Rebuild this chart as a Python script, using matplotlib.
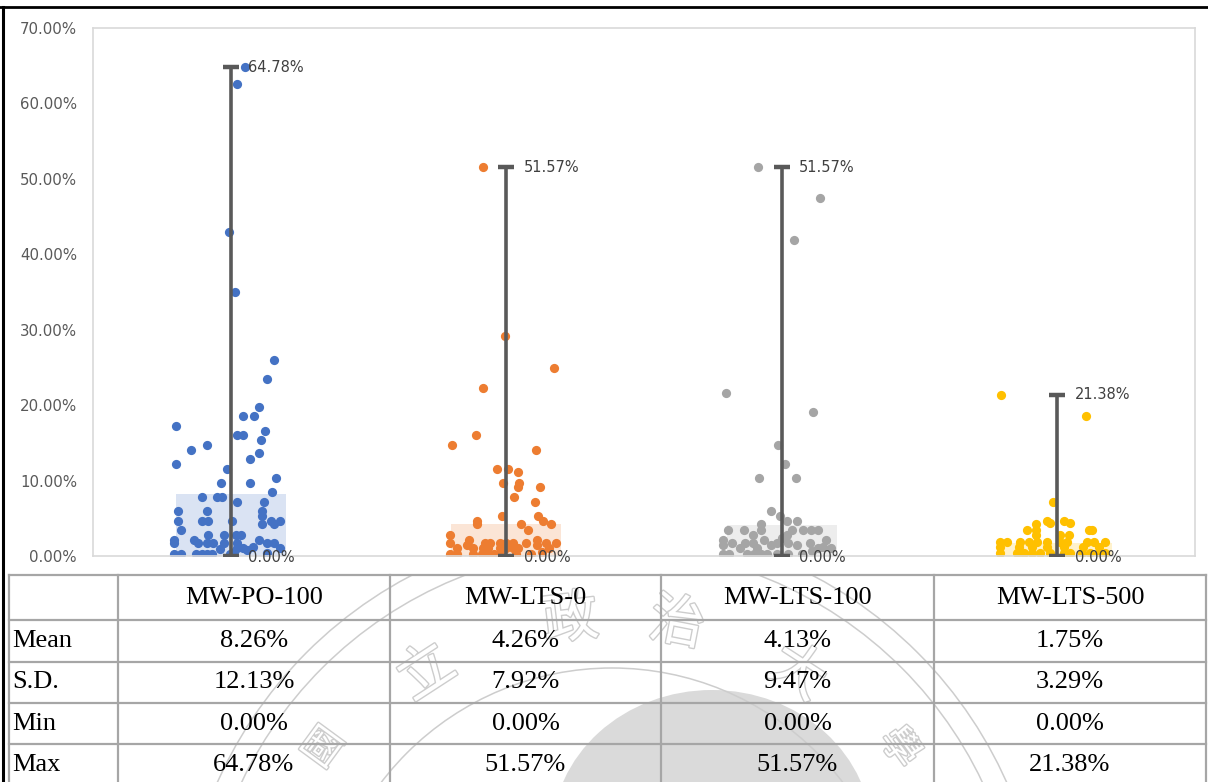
import math
import matplotlib
matplotlib.use("Agg")
import matplotlib.pyplot as plt
import matplotlib.patheffects as pe
from matplotlib.patches import Circle, Ellipse, Rectangle
from matplotlib.ticker import FuncFormatter

# summary values (percent)
groups = ["MW-PO-100", "MW-LTS-0", "MW-LTS-100", "MW-LTS-500"]
means = [8.26, 4.26, 4.13, 1.75]
sds = [12.13, 7.92, 9.47, 3.29]
mins = [0.00, 0.00, 0.00, 0.00]
maxs = [64.78, 51.57, 51.57, 21.38]
stat_rows = ["Mean", "S.D.", "Min", "Max"]

# individual observations (percent) and their horizontal jitter
po100_y = [64.78, 62.6, 43.0, 35.0, 26.0, 23.5, 19.8, 18.6, 18.6, 17.3, 16.1, 16.1, 16.6, 15.4,
           14.7, 14.0, 13.6, 12.9, 12.2, 11.5, 9.7, 9.7, 10.4, 8.5, 7.8, 7.8, 7.8, 7.2, 7.2,
           6.0, 6.0, 6.0, 5.3, 4.6, 4.6, 4.6, 4.6, 4.2, 4.6, 4.6, 4.2, 3.5, 2.8, 2.8, 2.8, 2.8,
           2.1, 1.7, 2.1, 1.7, 1.7, 1.7, 1.7, 1.7, 1.0, 2.1, 1.7, 1.7, 1.0, 1.0,
           0.3, 0.3, 0.3, 0.3, 0.3, 0.3, 0.3, 0.5, 0.8, 1.2, 0.4, 0.9]
po100_jit = [0.051, 0.024, -0.006, 0.015, 0.157, 0.132, 0.102, 0.045, 0.083, -0.200, 0.021, 0.045, 0.126, 0.108,
             -0.088, -0.145, 0.102, 0.069, -0.200, -0.013, -0.037, 0.069, 0.163, 0.151, -0.106, -0.051, -0.032, 0.021, 0.121,
             -0.193, -0.088, 0.114, 0.114, -0.193, -0.106, -0.081, 0.005, 0.114, 0.145, 0.178, 0.157, -0.181, -0.081, -0.025, 0.018, 0.039,
             -0.207, -0.207, -0.132, -0.119, -0.088, -0.063, -0.025, 0.024, 0.045, 0.102, 0.133, 0.157, 0.178, 0.023,
             -0.207, -0.181, -0.125, -0.106, -0.088, -0.069, -0.004, 0.010, 0.060, 0.080, 0.130, -0.040]

lts0_y = [51.57, 29.2, 24.9, 22.3, 16.1, 14.7, 14.0, 11.5, 11.5, 11.1, 9.7, 9.7, 9.2, 9.2, 7.8, 7.2,
          5.3, 5.3, 4.6, 4.2, 4.6, 4.2, 4.2, 3.5, 2.8, 1.7, 1.0, 0.3, 0.3, 2.1, 1.5, 1.0, 0.3,
          1.7, 1.7, 1.0, 1.0, 0.3, 0.3, 0.3, 1.7, 1.7, 1.0, 1.0, 0.3, 1.7, 1.0, 1.0, 1.7, 2.1, 1.5,
          1.7, 1.0, 1.7, 0.3, 0.3, 0.5]
lts0_jit = [-0.085, -0.004, 0.172, -0.085, -0.109, -0.197, 0.109, -0.034, 0.008, 0.041, -0.010, 0.047, 0.041, 0.123, 0.029, 0.104,
            -0.016, 0.115, 0.135, 0.162, -0.105, -0.105, 0.053, 0.079, -0.203, -0.203, -0.179, -0.203, -0.179, -0.137, -0.143, -0.119, -0.119,
            -0.076, -0.058, -0.083, -0.065, -0.088, -0.070, -0.046, -0.022, 0.000, -0.022, 0.000, -0.022, 0.024, 0.026, 0.041, 0.073, 0.111, 0.111,
            0.145, 0.154, 0.179, 0.036, 0.090, 0.130]

lts100_y = [51.57, 47.4, 41.9, 21.6, 19.1, 14.7, 12.2, 10.4, 10.4, 6.0, 5.3, 4.6, 4.6, 4.2,
            3.5, 3.5, 3.5, 3.5, 3.5, 3.5, 3.5, 2.8, 2.8, 2.1, 1.5, 1.7, 1.7, 1.7, 2.1, 1.5, 1.7,
            1.7, 1.5, 1.7, 2.1, 1.0, 1.0, 0.3, 0.3, 0.3, 0.3, 0.3, 0.3, 0.3, 0.3, 0.3,
            1.0, 1.0, 2.4, 0.7, 1.2]
lts100_jit = [-0.088, 0.139, 0.044, -0.201, 0.114, -0.013, 0.013, -0.082, 0.051, -0.039, -0.008, 0.019, 0.057, -0.076,
              -0.195, -0.138, -0.076, 0.037, 0.076, 0.105, 0.133, -0.106, 0.019, -0.212, -0.212, -0.179, -0.134, -0.106, -0.064, -0.040, -0.016,
              0.021, 0.057, 0.103, 0.160, 0.130, 0.178, -0.212, -0.191, -0.125, -0.101, -0.076, -0.052, -0.016, 0.021, 0.075,
              -0.150, -0.090, 0.000, 0.110, 0.150]

lts500_y = [21.38, 18.6, 7.1, 4.7, 4.4, 4.7, 4.4, 4.2, 3.5, 3.5, 3.5, 3.5, 2.8, 2.8, 2.8,
            1.9, 1.9, 1.9, 1.9, 1.9, 1.9, 1.9, 1.9, 1.9, 1.9, 1.9,
            1.2, 1.2, 1.2, 1.2, 1.2, 1.2, 1.2,
            0.4, 0.4, 0.4, 0.4, 0.4, 0.4, 0.4, 0.4, 0.4, 0.4, 0.4, 0.4]
lts500_jit = [-0.203, 0.105, -0.016, -0.037, -0.025, 0.023, 0.047, -0.076, -0.110, -0.076, 0.114, 0.126, -0.076, 0.011, 0.041,
              -0.209, -0.183, -0.134, -0.104, -0.074, -0.037, 0.011, 0.035, 0.108, 0.132, 0.174,
              -0.209, -0.140, -0.092, -0.037, 0.023, 0.095, 0.150,
              -0.209, -0.146, -0.122, -0.092, -0.062, -0.025, 0.023, 0.047, 0.090, 0.120, 0.150, 0.174]

points_y = [po100_y, lts0_y, lts100_y, lts500_y]
points_jit = [po100_jit, lts0_jit, lts100_jit, lts500_jit]
dot_colors = ["#4472C4", "#ED7D31", "#A5A5A5", "#FFC000"]
bar_colors = ["#DAE3F3", "#FBE5D6", "#EDEDED", "#FFF2CC"]

fig = plt.figure(figsize=(12.08, 7.82), dpi=100)

# full-page overlay in pixel units for table, borders and watermark
bg = fig.add_axes([0, 0, 1, 1], zorder=0)
bg.set_xlim(0, 1208)
bg.set_ylim(782, 0)
bg.axis("off")

# chart
ax = fig.add_axes([93 / 1208, 1 - 556 / 782, (1195 - 93) / 1208, (556 - 28) / 782], zorder=1)
ax.set_facecolor("white")
pos = [1, 2, 3, 4]
ax.bar(pos, means, width=0.40, color=bar_colors, zorder=1)
for i in range(4):
    xs = [pos[i] + j for j in points_jit[i]]
    ax.scatter(xs, points_y[i], s=44, color=dot_colors[i], linewidths=0, zorder=2)
    ax.errorbar(pos[i], means[i], yerr=[[means[i] - mins[i]], [maxs[i] - means[i]]], fmt="none",
                ecolor="#595959", elinewidth=2.6, capsize=5.8, capthick=3.2, zorder=3)
    ax.annotate(f"{maxs[i]:.2f}%", (pos[i], maxs[i]), xytext=(12.5, 0), textcoords="offset points",
                va="center", ha="left", fontsize=10.5, color="#404040")
    ax.annotate(f"{mins[i]:.2f}%", (pos[i], mins[i]), xytext=(12.5, -1), textcoords="offset points",
                va="center", ha="left", fontsize=10.5, color="#404040", zorder=4)
ax.set_xlim(0.5, 4.5)
ax.set_ylim(0, 70)
ax.set_yticks(range(0, 71, 10))
ax.yaxis.set_major_formatter(FuncFormatter(lambda v, p: f"{v:.2f}%"))
ax.tick_params(axis="y", length=0, pad=11.5, labelsize=10.8, labelcolor="#595959")
ax.set_xticks([])
for s in ax.spines.values():
    s.set_color("#D9D9D9")
    s.set_linewidth(1.2)

# watermark (seal) behind the table
wm = "#cdcdcd"
cx, cy = 612, 958
clip = Rectangle((9, 576), 1197, 210, transform=bg.transData, fill=False)
blob = Ellipse((712, 835), 320, 290, fc="#dadada", ec="none", zorder=0.3)
bg.add_patch(blob)
blob.set_clip_path(clip)
for r in (290, 410, 432):
    c = Circle((cx, cy), r, fill=False, ec=wm, lw=1.1, zorder=0.4)
    bg.add_patch(c)
    c.set_clip_path(clip)
seal_chars = ["國", "立", "政", "治", "大", "學"]
seal_angles = [143.8, 123, 97, 79, 57, 36.2]
seal_radii = [356, 340, 340, 340, 340, 356]
seal_sizes = [28, 40, 40, 40, 40, 28]
for ch, a, rr, fs in zip(seal_chars, seal_angles, seal_radii, seal_sizes):
    t = math.radians(a)
    bg.text(cx + rr * math.cos(t), cy - rr * math.sin(t), ch, rotation=a - 90,
            ha="center", va="center", fontsize=fs, color="white", family="Noto Sans CJK TC",
            path_effects=[pe.withStroke(linewidth=2.0, foreground=wm)], zorder=0.5, clip_on=True)

# table
col_x = [9, 118, 390, 661, 934, 1206]
row_y = [575, 620, 662, 703, 744, 786]
for x in col_x:
    bg.plot([x, x], [row_y[0], 782], color="#A6A6A6", lw=1.6, zorder=2)
for y in row_y[:-1]:
    bg.plot([col_x[0], col_x[-1]], [y, y], color="#A6A6A6", lw=1.6, zorder=2)
tfont = dict(family="Liberation Serif", fontsize=19, color="black", va="center", zorder=3)
for j in range(4):
    xc = (col_x[j + 1] + col_x[j + 2]) / 2
    bg.text(xc, (row_y[0] + row_y[1]) / 2 + 1, groups[j], ha="center", **tfont)
table_vals = [means, sds, mins, maxs]
for r in range(4):
    yc = (row_y[r + 1] + row_y[r + 2]) / 2
    bg.text(12, yc, stat_rows[r], ha="left", **tfont)
    for j in range(4):
        xc = (col_x[j + 1] + col_x[j + 2]) / 2
        bg.text(xc, yc, f"{table_vals[r][j]:.2f}%", ha="center", **tfont)

# page border
bg.plot([0, 1208], [7, 7], color="black", lw=2, zorder=4)
bg.plot([3, 3], [7, 782], color="black", lw=2.2, zorder=4)

fig.savefig("out.png", dpi=100)
